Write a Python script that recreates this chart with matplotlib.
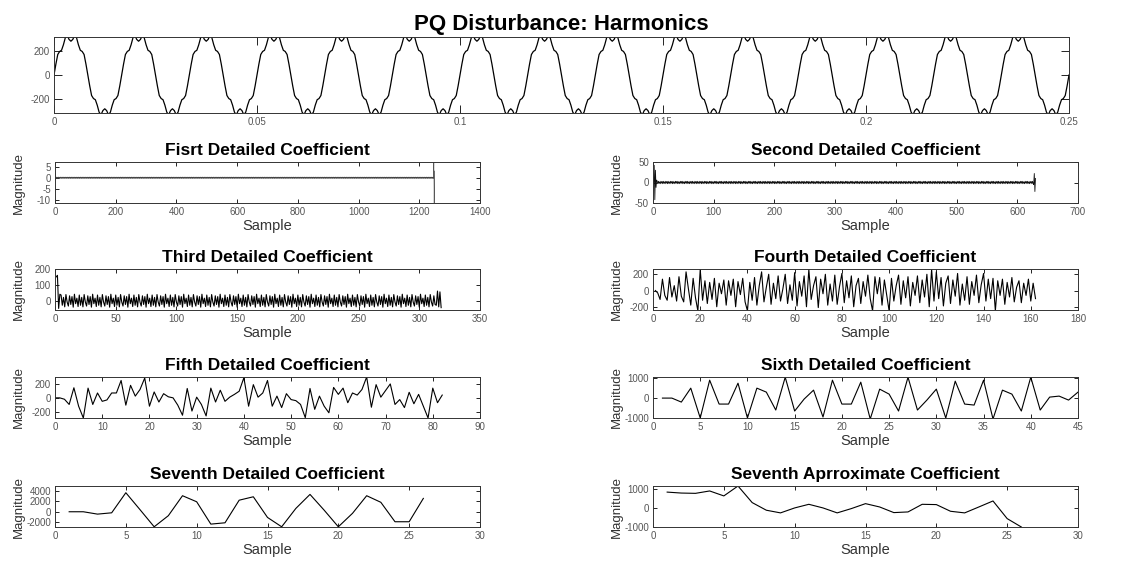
import matplotlib.pyplot as plt
import numpy as np

plt.rcParams['font.family'] = ['Liberation Sans', 'DejaVu Sans']
plt.rcParams['axes.unicode_minus'] = False

# --- data ---
# one 60 Hz cycle of the distorted voltage, sampled every 10 degrees
cycle = [0, 90, 170, 195, 205, 250, 308, 330, 295, 280, 295, 330, 308, 250, 205, 195, 170, 90,
         0, -90, -170, -195, -205, -250, -308, -330, -295, -280, -295, -330, -308, -250, -205, -195, -170, -90]
f0 = 60
n_cycles = 15

# dense detail levels: short repeating pattern + edge transients
d1_pattern = [0.25, -0.3, 0.35, -0.2, 0.3, -0.35]
d1_head = [2.0, -1.0]
d1_tail = [0.4, 8.0, -12.0, 3.0]
d1_len = 1250

d2_pattern = [2.5, -3, 3, -2, 1.5, -3, 3, -1.5]
d2_head = [0, 42, -42, 30, -12, 6]
d2_tail = [-5, 22, -22, 10]
d2_len = 630

d3_pattern = [35, -30, 20, -40, 38, -10, -35, 30, -25, 25, -42, 40, -20, 15, -38]
d3_head = [150, 160, -50, 40]
d3_tail = [-30, 60, -40, 55, -45]
d3_len = 318

d4 = [0, -30, -110, 140, -60, -120, 160, -80, 60, -130, 170, -70, -140, 230, 20, -180, 150, -90, -250, 260,
      -120, 120, -160, 100, -110, 150, -200, 90, -40, 130, -180, 120, -60, 140, -200, 110, -50, 150, -140, -250,
      100, -120, 160, -180, 60, 230, -140, 40, 200, -170, 90, -100, 180, -130, 20, 200, -160, 70, -120, 220,
      -190, 110, -70, 180, -200, 260, -110, 60, 170, -210, 140, -40, 200, -180, 80, -130, 190, -170, 50, 210,
      -150, 120, -90, 180, -200, 60, 150, -160, 110, -70, 190, -100, -250, 170, -40, 160, -180, 130, -60, -250,
      150, -130, 60, 190, -170, 120, -90, 170, -190, 100, -60, 180, -150, 130, -80, 200, -200, 260, -130, 230,
      -100, 160, -190, 90, 180, -160, 130, -70, 210, -180, 80, -120, 170, -170, 110, -60, 190, -150, 70, 210,
      -130, 140, -100, 150, -250, 120, -60, 140, -170, 100, -80, 160, -140, 40, 120, -150, 90, -60, 140, -130,
      90, -100]

d5 = [0, 0, -20, -95, 145, -120, -290, 140, -95, 70, -50, -30, 70, 70, 250, -105, 180, 25, 120, 285,
      -120, 85, -60, 60, 15, 0, -105, -250, 135, -190, 10, -95, -260, 140, -60, 110, -50, 10, 50, 95,
      290, -120, 190, 10, 70, 250, -120, 25, -140, 60, -25, -40, -95, -285, 135, -165, 25, -120, -215, 150,
      50, 140, -70, 70, 40, 120, 300, -135, 190, 10, 105, 200, -95, -25, -140, 80, -85, 50, -120, -290,
      140, -70, 40]

d6 = [0, 0, -200, 500, -1000, 900, -300, -300, 750, -1000, 500, 300, -600, 1050, -650, -50, 400, -950, 900, -300,
      -300, 800, -1050, 450, 200, -650, 1050, -600, -100, 450, -1000, 850, -300, -350, 900, -1050, 400, 200, -650, 1050,
      -600, 50, 100, -100, 300]

d7 = [0, 0, -450, -200, 3620, 400, -2860, -750, 3050, 1900, -2350, -2100, 2200, 2850, -1080, -2860, 630, 3300, 300, -2860,
      -300, 3050, 1800, -1900, -1900, 2540]

a7 = [830, 780, 765, 890, 630, 1150, 280, -120, -260, 0, 190, 0, -260, -35, 225, 50, -245, -210, 190, 175,
      -175, -260, 50, 365, -560, -1000]

titles = ['Fisrt Detailed Coefficient', 'Second Detailed Coefficient',
          'Third Detailed Coefficient', 'Fourth Detailed Coefficient',
          'Fifth Detailed Coefficient', 'Sixth Detailed Coefficient',
          'Seventh Detailed Coefficient', 'Seventh Aprroximate Coefficient']
xlims = [1400, 700, 350, 180, 90, 45, 30, 30]
ylims = [(-11.2, 7), (-50, 50), (-60, 200), (-240, 265), (-290, 300), (-1000, 1060), (-2900, 4900), (-1000, 1150)]
yticks = [[-10, -5, 0, 5], [-50, 0, 50], [0, 100, 200], [-200, 0, 200], [-200, 0, 200],
          [-1000, 0, 1000], [-2000, 0, 2000, 4000], [-1000, 0, 1000]]
line_widths = [0.4, 0.6, 0.8, 0.8, 0.8, 0.8, 0.8, 0.8]
line_colors = ['#444444', '#111111', 'black', 'black', 'black', 'black', 'black', 'black']


def build(head, pattern, tail, length):
    body_len = length - len(head) - len(tail)
    reps = body_len // len(pattern) + 1
    return np.concatenate([head, np.tile(pattern, reps)[:body_len], tail])


signal = np.append(np.tile(cycle, n_cycles), 0)
t = np.arange(len(signal)) / (len(cycle) * f0)

series = [build(d1_head, d1_pattern, d1_tail, d1_len),
          build(d2_head, d2_pattern, d2_tail, d2_len),
          build(d3_head, d3_pattern, d3_tail, d3_len),
          np.array(d4), np.array(d5), np.array(d6), np.array(d7), np.array(a7)]
starts = [1, 1, 1, 1, 0, 1, 1, 1]

W, H = 1131, 568
tick_color = '#555555'


def style(ax, ticklen=3):
    ax.tick_params(direction='in', top=True, right=True, length=ticklen, width=0.6,
                   labelsize=7, labelcolor=tick_color, pad=3)
    for s in ax.spines.values():
        s.set_linewidth(0.7)
        s.set_color('#333333')


fig = plt.figure(figsize=(W / 100, H / 100), dpi=100)

# --- top: the disturbed signal ---
ax0 = fig.add_axes([54 / W, 1 - 113 / H, 1015 / W, 76 / H])
ax0.plot(t, signal, color='black', lw=0.9)
ax0.set_xlim(0, 0.25)
ax0.set_ylim(-315, 315)
ax0.set_yticks([-200, 0, 200])
ax0.set_xticks([0, 0.05, 0.1, 0.15, 0.2, 0.25])
ax0.set_xticklabels(['0', '0.05', '0.1', '0.15', '0.2', '0.25'])
style(ax0, ticklen=6)
ax0.set_title('PQ Disturbance: Harmonics', fontsize=16, fontweight='bold', pad=5)

# --- 4x2 grid of wavelet coefficients ---
lefts = [55, 653]
tops = [162, 269, 377, 486]
for i, y in enumerate(series):
    r, c = divmod(i, 2)
    ax = fig.add_axes([lefts[c] / W, 1 - (tops[r] + 41) / H, 425 / W, 41 / H])
    x = np.arange(starts[i], starts[i] + len(y))
    ax.plot(x, y, color=line_colors[i], lw=line_widths[i])
    ax.set_xlim(0, xlims[i])
    ax.set_ylim(*ylims[i])
    ax.set_yticks(yticks[i])
    style(ax)
    ax.set_title(titles[i], fontsize=12.5, fontweight='bold', pad=5)
    ax.set_xlabel('Sample', fontsize=10.5, color='#333333', labelpad=1)
    ax.set_ylabel('Magnitude', fontsize=9.5, color='#333333')
    ax.yaxis.set_label_coords(-0.07, 0.5)

fig.savefig('out.png', dpi=100)
